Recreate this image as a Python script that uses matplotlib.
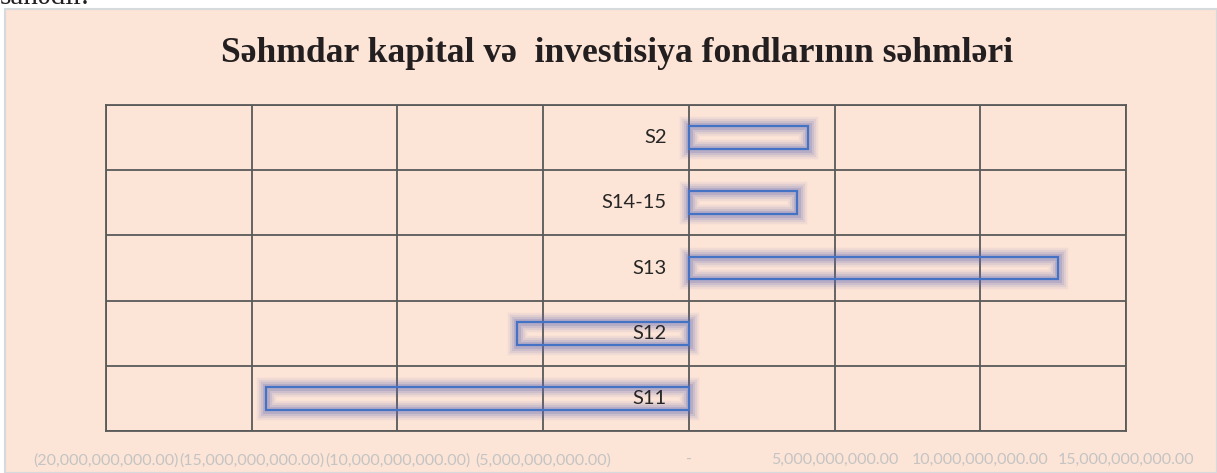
import matplotlib.pyplot as plt
import matplotlib.patheffects as pe
from matplotlib.patches import Rectangle
from matplotlib.ticker import FuncFormatter, MultipleLocator
import matplotlib.transforms as mtransforms

categories = ['S11', 'S12', 'S13', 'S14-15', 'S2']
values = [-14.52e9, -5.89e9, 12.66e9, 3.72e9, 4.08e9]
title = 'Səhmdar kapital və  investisiya fondlarının səhmləri'

peach = '#fce4d6'
grid_col = '#5a5a5a'
bar_edge = '#4472c4'
glow = '#5c64b4'


def acc_fmt(v, pos):
    if abs(v) < 1:
        return '-'
    s = '{:,.2f}'.format(abs(v))
    if v < 0:
        return '(' + s + ')'
    return s


fig = plt.figure(figsize=(12.17, 4.73), dpi=100)
fig.patch.set_facecolor('white')

# chart area background
bg = Rectangle((5 / 1217, 0), 1 - 5 / 1217, 1 - 9 / 473, transform=fig.transFigure,
               facecolor=peach, edgecolor='#d6dadc', linewidth=1.5, zorder=-10)
fig.patches.append(bg)

# cropped text from the page above the chart
fig.text(0.0, 1 - 4 / 473, 'sahədir.', fontsize=21, family='Liberation Serif',
         color='#231f20', ha='left', va='baseline')

ax = fig.add_axes([106 / 1217, 1 - 431 / 473, 1020 / 1217, 326 / 473])
ax.set_zorder(2)
ax.set_facecolor(peach)

ypos = list(range(len(categories)))
bars = ax.barh(ypos, values, height=0.35, facecolor='none', edgecolor=bar_edge,
               linewidth=1.6, zorder=3)
for b in bars:
    b.set_path_effects([
        pe.Stroke(linewidth=14, foreground=glow, alpha=0.07),
        pe.Stroke(linewidth=11, foreground=glow, alpha=0.10),
        pe.Stroke(linewidth=8, foreground=glow, alpha=0.14),
        pe.Stroke(linewidth=5, foreground=glow, alpha=0.2),
        pe.Normal(),
    ])

ax.set_xlim(-20e9, 15e9)
ax.set_ylim(-0.5, len(categories) - 0.5)
ax.xaxis.set_major_locator(MultipleLocator(5e9))
ax.xaxis.set_major_formatter(FuncFormatter(acc_fmt))
ax.set_yticks([])
ax.set_yticks([i - 0.5 for i in range(len(categories) + 1)], minor=True)
ax.grid(True, axis='x', which='major', color=grid_col, linewidth=1.3, zorder=1)
ax.grid(True, axis='y', which='minor', color=grid_col, linewidth=1.3, zorder=1)
ax.set_axisbelow(True)
ax.tick_params(axis='x', length=0, pad=16, labelsize=11.5, labelcolor='#c4c4c4')
ax.tick_params(axis='y', which='both', length=0)
for lab in ax.get_xticklabels():
    lab.set_family('Lato')
for sp in ax.spines.values():
    sp.set_color(grid_col)
    sp.set_linewidth(1.3)

# category labels sit next to the zero axis
lab_tr = mtransforms.offset_copy(ax.transData, fig=fig, x=-22, y=0, units='dots')
for yi, name in zip(ypos, categories):
    ax.text(0, yi, name, transform=lab_tr, ha='right', va='center',
            fontsize=14.5, family='Lato', color='#262626', zorder=5)

fig.text(617 / 1217, 1 - 54 / 473, title, ha='center', va='center',
         fontsize=25.6, fontweight='bold', family='Liberation Serif', color='#231f20')

fig.savefig('out.png', dpi=100, facecolor=fig.get_facecolor())
